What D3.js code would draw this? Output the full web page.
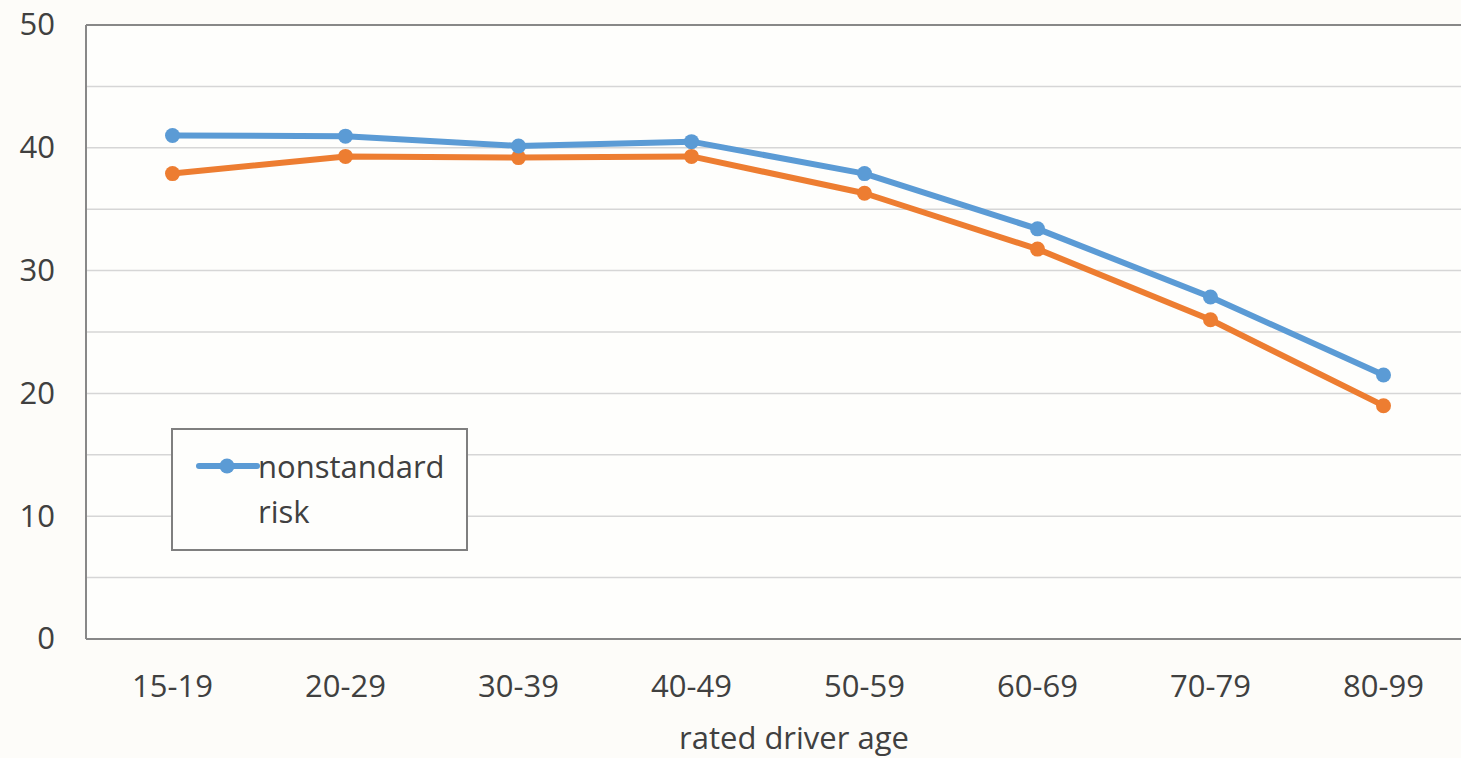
<html>
<head>
<script src="https://d3js.org/d3.v7.min.js"></script>
<style>
  body { margin: 0; background: #fdfcf9; }
  text { font-family: "Open Sans", sans-serif; fill: #404040; }
</style>
</head>
<body>
<svg id="svg" width="1461" height="758"></svg>
<script>
var categories = ["15-19", "20-29", "30-39", "40-49", "50-59", "60-69", "70-79", "80-99"];
var nonstandard = [41.0, 40.95, 40.15, 40.5, 37.9, 33.4, 27.85, 21.5];
var standard = [37.9, 39.3, 39.2, 39.3, 36.3, 31.75, 26.0, 19.0];
var yTicks = [0, 10, 20, 30, 40, 50];
var gridValues = [5, 10, 15, 20, 25, 30, 35, 40, 45];

var svg = d3.select("svg");
var plotLeft = 86, plotRight = 1470, plotTop = 25, plotBottom = 639;
var fontSize = "31px";

var x = d3.scaleBand().domain(categories).range([plotLeft, plotRight]);
var y = d3.scaleLinear().domain([0, 50]).range([plotBottom, plotTop]);

// plot background
svg.append("rect").attr("x", plotLeft).attr("y", plotTop)
   .attr("width", plotRight - plotLeft).attr("height", plotBottom - plotTop)
   .attr("fill", "#fefefc");

// gridlines
svg.append("g").selectAll("line").data(gridValues).enter().append("line")
   .attr("x1", plotLeft).attr("x2", plotRight)
   .attr("y1", function(d){ return y(d); }).attr("y2", function(d){ return y(d); })
   .attr("stroke", "#d6d6d6").attr("stroke-width", 1.5);

// frame
svg.append("line").attr("x1", plotLeft).attr("x2", plotRight).attr("y1", plotTop).attr("y2", plotTop)
   .attr("stroke", "#888").attr("stroke-width", 2);
svg.append("line").attr("x1", plotLeft).attr("x2", plotRight).attr("y1", plotBottom).attr("y2", plotBottom)
   .attr("stroke", "#888").attr("stroke-width", 2);
svg.append("line").attr("x1", plotLeft).attr("x2", plotLeft).attr("y1", plotTop).attr("y2", plotBottom)
   .attr("stroke", "#888").attr("stroke-width", 2);

// y axis labels
var yAxis = d3.axisLeft(y).tickValues(yTicks).tickSize(0).tickPadding(31);
var gy = svg.append("g").attr("transform", "translate(" + plotLeft + ",0)").call(yAxis);
gy.select(".domain").remove();
gy.selectAll("text").style("font-size", fontSize).attr("fill", "#404040")
  .style("font-family", "'Open Sans', sans-serif");

// x axis labels
var xAxis = d3.axisBottom(x).tickSize(0).tickPadding(36);
var gx = svg.append("g").attr("transform", "translate(0," + plotBottom + ")").call(xAxis);
gx.select(".domain").remove();
gx.selectAll("text").style("font-size", fontSize).attr("fill", "#404040")
  .style("font-family", "'Open Sans', sans-serif");

svg.append("text").attr("x", 794).attr("y", 749).attr("text-anchor", "middle")
   .style("font-size", fontSize).text("rated driver age");

// series
var series = [
  { name: "risk", values: standard, color: "#ed7d31" },
  { name: "nonstandard", values: nonstandard, color: "#5b9bd5" }
];
var line = d3.line()
  .x(function(d, i){ return x(categories[i]) + x.bandwidth() / 2; })
  .y(function(d){ return y(d); });

series.forEach(function(s){
  svg.append("path").attr("d", line(s.values))
     .attr("fill", "none").attr("stroke", s.color)
     .attr("stroke-width", 6).attr("stroke-linejoin", "round");
  svg.append("g").selectAll("circle").data(s.values).enter().append("circle")
     .attr("cx", function(d, i){ return x(categories[i]) + x.bandwidth() / 2; })
     .attr("cy", function(d){ return y(d); })
     .attr("r", 7.5).attr("fill", s.color);
});

// legend
var lg = svg.append("g");
lg.append("rect").attr("x", 172).attr("y", 429).attr("width", 295).attr("height", 121)
  .attr("fill", "#fefefc").attr("stroke", "#7f7f7f").attr("stroke-width", 2);
lg.append("line").attr("x1", 199).attr("x2", 257).attr("y1", 466).attr("y2", 466)
  .attr("stroke", "#5b9bd5").attr("stroke-width", 6).attr("stroke-linecap", "round");
lg.append("circle").attr("cx", 227).attr("cy", 466).attr("r", 7.5).attr("fill", "#5b9bd5");
lg.append("text").attr("x", 258).attr("y", 478).style("font-size", fontSize).text("nonstandard");
lg.append("text").attr("x", 258).attr("y", 523).style("font-size", fontSize).text("risk");
</script>
</body>
</html>
